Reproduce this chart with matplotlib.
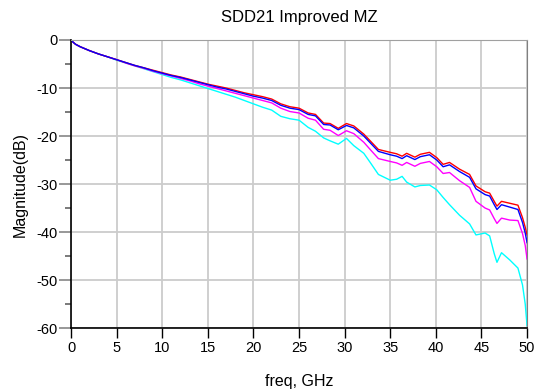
import matplotlib
matplotlib.use("Agg")
import matplotlib.pyplot as plt
from matplotlib.ticker import MultipleLocator

plt.rcParams['font.family'] = ['Liberation Sans', 'DejaVu Sans']
plt.rcParams['axes.unicode_minus'] = False

# --- datos (GHz, dB) ---
freq = [0, 0.25, 0.5, 1, 2, 3, 4, 5, 6, 7, 8, 9, 10, 11, 12, 13, 14, 15, 16, 17,
        18, 19, 20, 21, 22, 23, 24, 25, 26, 26.8, 27.7, 28.4, 29.3, 30.2, 31, 32.1,
        32.8, 33.7, 35, 35.7, 36.3, 36.8, 37.7, 38.3, 39.3, 40.1, 40.8, 41.5, 42.6,
        43.7, 44.4, 45.4, 45.9, 46.4, 46.7, 47.2, 48.1, 49.0, 49.5, 49.8, 50]

sdd21_red = [0, -0.5, -0.9, -1.4, -2.2, -2.9, -3.5, -4.1, -4.7, -5.3, -5.8, -6.3,
             -6.8, -7.3, -7.7, -8.2, -8.7, -9.2, -9.6, -10.0, -10.5, -11.0, -11.4,
             -11.8, -12.3, -13.3, -13.9, -14.2, -15.2, -15.5, -17.3, -17.4, -18.4,
             -17.4, -17.9, -19.6, -21.0, -22.8, -23.4, -23.7, -24.2, -23.6, -24.4,
             -23.8, -23.4, -24.5, -25.9, -25.5, -26.9, -28.0, -30.4, -31.6, -31.9,
             -33.6, -34.6, -33.6, -34.0, -34.4, -37.0, -39.0, -40.6]

sdd21_blue = [0, -0.5, -0.9, -1.4, -2.2, -2.9, -3.5, -4.1, -4.7, -5.3, -5.8, -6.4,
              -6.9, -7.4, -7.8, -8.3, -8.8, -9.3, -9.8, -10.2, -10.7, -11.2, -11.7,
              -12.1, -12.6, -13.6, -14.2, -14.5, -15.5, -15.8, -17.6, -17.7, -18.7,
              -17.8, -18.3, -20.0, -21.4, -23.2, -23.9, -24.2, -24.7, -24.1, -24.9,
              -24.3, -23.9, -25.0, -26.4, -26.0, -27.4, -28.6, -31.0, -32.2, -32.5,
              -34.3, -35.3, -34.3, -34.8, -35.3, -38.0, -40.2, -42.2]

sdd21_magenta = [0, -0.5, -0.9, -1.4, -2.2, -2.9, -3.5, -4.1, -4.8, -5.4, -5.9, -6.5,
                 -7.0, -7.5, -8.0, -8.5, -9.1, -9.6, -10.1, -10.6, -11.1, -11.6, -12.1,
                 -12.6, -13.1, -14.2, -14.9, -15.2, -16.3, -16.7, -18.6, -18.8, -19.9,
                 -18.9, -19.5, -21.3, -22.8, -24.7, -25.3, -25.6, -26.1, -25.5, -26.3,
                 -25.7, -25.3, -26.4, -27.8, -27.6, -29.3, -30.7, -33.6, -35.0, -35.4,
                 -37.2, -38.2, -37.1, -37.5, -37.6, -40.3, -42.8, -45.6]

sdd21_cyan = [0, -0.5, -0.9, -1.4, -2.2, -2.9, -3.5, -4.2, -4.8, -5.4, -6.0, -6.6,
              -7.2, -7.8, -8.3, -8.9, -9.5, -10.1, -10.7, -11.3, -11.9, -12.6, -13.3,
              -14.0, -14.6, -15.9, -16.4, -16.7, -18.2, -19.0, -20.4, -21.0, -21.7,
              -20.5, -22.0, -23.6, -25.5, -28.0, -29.2, -29.0, -28.4, -29.6, -30.6,
              -30.3, -30.2, -31.2, -32.8, -34.3, -36.5, -38.3, -40.6, -40.2, -40.8,
              -44.5, -46.3, -44.3, -45.8, -47.5, -51.0, -55.0, -59.5]

# --- grafico ---
fig = plt.figure(figsize=(5.34, 3.92), dpi=100)
ax = fig.add_axes([0.133, 0.163, 0.854, 0.735])

ax.plot(freq, sdd21_cyan, color='#00ffff', lw=1.0)
ax.plot(freq, sdd21_magenta, color='#ff00ff', lw=1.0)
ax.plot(freq, sdd21_red, color='#ff0000', lw=1.0)
ax.plot(freq, sdd21_blue, color='#0000ff', lw=1.0)

ax.set_xlim(0, 50)
ax.set_ylim(-60, 0)
ax.xaxis.set_major_locator(MultipleLocator(5))
ax.yaxis.set_major_locator(MultipleLocator(10))
ax.yaxis.set_minor_locator(MultipleLocator(5))
ax.grid(True, which='major', color='#cccccc', lw=1.3)
ax.set_axisbelow(True)

ax.tick_params(axis='x', which='major', direction='out', length=7, width=1,
               color='black', labelsize=10.5, pad=2)
ax.tick_params(axis='y', which='major', direction='out', length=9, width=1.3,
               color='#909090', labelsize=10.5, pad=1)
ax.tick_params(axis='y', which='minor', direction='out', length=4.5, width=1.3,
               color='#707070')

for s in ['left', 'bottom']:
    ax.spines[s].set_color('black')
    ax.spines[s].set_linewidth(1.2)
ax.spines['top'].set_color('#a0a0a0')
ax.spines['right'].set_color('#808080')

fig.suptitle('SDD21 Improved MZ', x=0.56, y=0.975, fontsize=12)
ax.set_xlabel('freq, GHz', fontsize=11.5, labelpad=14)
ax.set_ylabel('Magnitude(dB)', fontsize=11.5, labelpad=6)

fig.savefig('out.png', dpi=100)
